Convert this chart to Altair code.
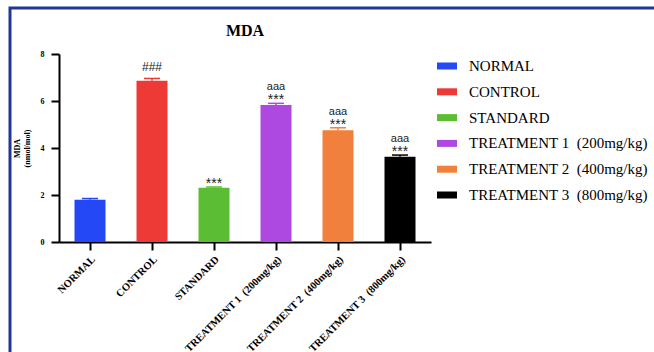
import altair as alt
import pandas as pd

# MDA levels per group (mean ± SEM)
groups = [
    "NORMAL",
    "CONTROL",
    "STANDARD",
    "TREATMENT 1\u00a0 (200mg/kg)",
    "TREATMENT 2\u00a0 (400mg/kg)",
    "TREATMENT 3\u00a0 (800mg/kg)",
]
means = [1.80, 6.86, 2.31, 5.83, 4.76, 3.63]
sems = [0.05, 0.10, 0.03, 0.07, 0.10, 0.07]
vs_normal = ["", "###", "", "", "", ""]
vs_control = ["", "", "***", "***", "***", "***"]
vs_standard = ["", "", "", "aaa", "aaa", "aaa"]
colors = ["#2448F6", "#EE3A37", "#5BBD33", "#AD48E0", "#F0803B", "#000000"]
chart_title = "MDA"

df = pd.DataFrame({
    "group": groups,
    "mda": means,
    "sem": sems,
    "sig_normal": vs_normal,
    "sig_control": vs_control,
    "sig_standard": vs_standard,
})
df["upper"] = df["mda"] + df["sem"]

SERIF = "Liberation Serif"
SANS = "Liberation Sans"

x_enc = alt.X(
    "group:N",
    sort=groups,
    scale=alt.Scale(paddingInner=0.5, paddingOuter=0.25),
    axis=alt.Axis(
        title=None,
        labelAngle=-45,
        labelAlign="right",
        labelBaseline="top",
        labelFont=SERIF,
        labelFontWeight="bold",
        labelFontSize=10.5,
        labelColor="black",
        labelPadding=4,
        domainColor="black",
        domainWidth=2,
        tickColor="black",
        tickWidth=2,
        tickSize=8,
    ),
)

color_scale = alt.Scale(domain=groups, range=colors)
legend = alt.Legend(
    title=None,
    orient="none",
    legendX=378,
    legendY=2,
    labelFont=SERIF,
    labelFontSize=15,
    labelColor="black",
    labelLimit=300,
    labelOffset=12,
    symbolType="M-1,-0.35H1V0.35H-1Z",
    symbolSize=400,
    symbolStrokeWidth=0,
    symbolOpacity=1,
    rowPadding=7.8,
)

base = alt.Chart(df)

bars = base.mark_bar(size=31).encode(
    x=x_enc,
    y=alt.Y(
        "mda:Q",
        scale=alt.Scale(domain=[0, 8], nice=False),
        axis=alt.Axis(
            values=[0, 2, 4, 6, 8],
            title=["MDA", "(nmol/mol)"],
            titleFont=SERIF,
            titleFontWeight="bold",
            titleFontSize=8,
            titleColor="black",
            titleAngle=-90,
            titleX=-42,
            titleY=94,
            titleAlign="center",
            titleBaseline="middle",
            labelFont=SERIF,
            labelFontWeight="bold",
            labelFontSize=8,
            labelColor="black",
            labelPadding=7,
            domainColor="black",
            domainWidth=2,
            tickColor="black",
            tickWidth=2,
            tickSize=8,
            grid=False,
        ),
    ),
    color=alt.Color("group:N", sort=groups, scale=color_scale, legend=legend),
)

err_color = alt.Color("group:N", sort=groups, scale=color_scale, legend=None)
err_line = base.mark_rule(strokeWidth=1.5).encode(
    x=alt.X("group:N", sort=groups), y="mda:Q", y2="upper:Q", color=err_color
)
err_cap = base.mark_tick(size=16, thickness=1.5, opacity=1).encode(
    x=alt.X("group:N", sort=groups), y="upper:Q", color=err_color
)

sig_normal = base.mark_text(font=SANS, fontSize=12, color="#222", baseline="middle", dy=-11).encode(
    x=alt.X("group:N", sort=groups), y="upper:Q", text="sig_normal:N"
)
sig_control = base.mark_text(font=SANS, fontSize=14, color="#222", baseline="alphabetic", dy=1).encode(
    x=alt.X("group:N", sort=groups), y="upper:Q", text="sig_control:N"
)
sig_standard = base.mark_text(font=SANS, fontSize=11, color="#222", baseline="middle", dy=-16).encode(
    x=alt.X("group:N", sort=groups), y="upper:Q", text="sig_standard:N"
)

# chart heading, centred over the plot area
heading = alt.Chart(alt.Data(values=[{"t": chart_title}])).mark_text(
    font=SERIF, fontSize=16, fontWeight="bold", color="black", baseline="alphabetic"
).encode(x=alt.value(186), y=alt.value(-18), text="t:N")

# outer frame around the figure panel
frame = alt.Chart(alt.Data(values=[{}])).mark_rect(
    filled=False, stroke="#22369A", strokeWidth=3
).encode(
    x=alt.value(-49), y=alt.value(-46), x2=alt.value(800), y2=alt.value(600)
)

chart = alt.layer(
    frame, bars, err_line, err_cap, sig_normal, sig_control, sig_standard, heading
).properties(
    width=372,
    height=188,
    background="white",
    autosize=alt.AutoSizeParams(type="none"),
    padding={"left": 59, "top": 54, "right": 223, "bottom": 110},
).configure(
    font=SERIF
).configure_view(
    stroke=None
).configure_axis(
    grid=False
).configure_legend(
    labelFont=SERIF, labelFontSize=15, labelColor="black"
)

chart.save("out.html", embed_options={"renderer": "svg", "actions": False})
